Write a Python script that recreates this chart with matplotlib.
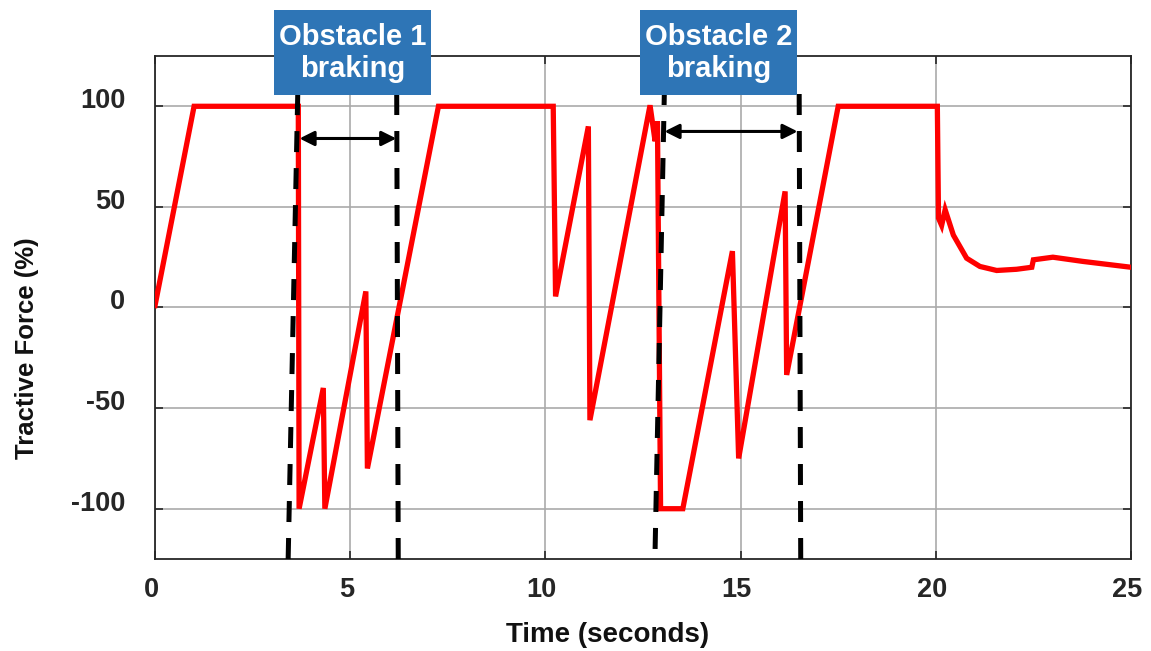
import matplotlib
matplotlib.use('Agg')
import matplotlib.pyplot as plt
import matplotlib.transforms as mtransforms
from matplotlib.patches import Rectangle

plt.rcParams['font.family'] = ['Liberation Sans', 'DejaVu Sans']
plt.rcParams['font.weight'] = 'bold'
plt.rcParams['axes.unicode_minus'] = False

# tractive force command over the run
time = [0.0, 1.0, 3.67, 3.69, 4.31, 4.35, 5.40, 5.44, 7.26,
        10.20, 10.26, 11.10, 11.14, 12.68, 12.81, 12.87, 12.95, 13.52,
        14.79, 14.95, 16.14, 16.18, 17.50, 20.04, 20.07, 20.15, 20.24,
        20.45, 20.79, 21.13, 21.56, 22.07, 22.46, 22.50, 23.00, 23.77, 25.0]
force = [1, 100, 100, -100, -40, -100, 8, -80, 100,
         100, 5.5, 90, -56, 100.5, 82.6, 92.5, -100, -100,
         28, -75, 57.7, -33.5, 100, 100, 44.4, 40.8, 48.6,
         36, 24.5, 20.4, 18.4, 19, 20, 23.7, 25, 22.9, 20]

# braking window markers (bottom x, top x)
brake_lines = [(3.41, 3.66), (6.23, 6.19), (12.81, 13.05), (16.54, 16.50)]
brake_line_bottom = [-125, -125, -120, -125]
arrows = [(3.70, 6.18, 84), (13.05, 16.46, 87.5)]
labels = ['Obstacle 1\nbraking', 'Obstacle 2\nbraking']
label_x = [(3.05, 7.07), (12.42, 16.44)]

fig = plt.figure(figsize=(11.51, 6.51), dpi=100)
ax = fig.add_axes([0.1347, 0.1413, 0.8479, 0.7727])

ax.plot(time, force, color='#ff0000', linewidth=3.8, zorder=3, solid_joinstyle='miter')

for (xb, xt), yb in zip(brake_lines, brake_line_bottom):
    ax.plot([xb, xt], [yb, 110], color='black', linewidth=3.6,
            dashes=(4.2, 3.2), clip_on=False, zorder=4)

for x0, x1, y in arrows:
    ax.annotate('', xy=(x1, y), xytext=(x0, y),
                arrowprops=dict(arrowstyle='<|-|>', color='black', lw=2.2,
                                mutation_scale=22, shrinkA=0, shrinkB=0),
                zorder=5)

for txt, (x0, x1) in zip(labels, label_x):
    ax.add_patch(Rectangle((x0, 105.5), x1 - x0, 42.5, facecolor='#2e75b6',
                           edgecolor='none', clip_on=False, zorder=6))
    ax.text((x0 + x1) / 2, 126.5, txt, color='white', fontsize=21, fontweight='bold',
            ha='center', va='center', linespacing=1.2, zorder=7)

ax.set_xlim(0, 25)
ax.set_ylim(-125, 125)
ax.set_xticks([0, 5, 10, 15, 20, 25])
ax.set_yticks([-100, -50, 0, 50, 100])
ax.grid(True, color='#aaaaaa', linewidth=1.2)
ax.set_axisbelow(True)
ax.tick_params(direction='in', top=True, right=True, length=6, width=1.2,
               labelsize=19.5, colors='#262626')
ax.tick_params(axis='x', pad=13)
ax.tick_params(axis='y', pad=21.5)
for s in ax.spines.values():
    s.set_linewidth(1.3)
    s.set_color('#262626')

# nudge tick labels a little
for lbl in ax.get_yticklabels():
    lbl.set_transform(lbl.get_transform() + mtransforms.ScaledTranslation(0, 0.08, fig.dpi_scale_trans))
for lbl in ax.get_xticklabels():
    lbl.set_transform(lbl.get_transform() + mtransforms.ScaledTranslation(-0.04, 0, fig.dpi_scale_trans))

ax.set_xlabel('Time (seconds)', fontsize=20, fontweight='bold', color='#111111')
ax.set_ylabel('Tractive Force (%)', fontsize=18.5, fontweight='bold', color='#111111')
ax.xaxis.set_label_coords(0.464, -0.151)
ax.yaxis.set_label_coords(-0.131, 0.42)
ax.xaxis.label.set_va('center')
ax.yaxis.label.set_va('center')

fig.savefig('out.png', dpi=100)
